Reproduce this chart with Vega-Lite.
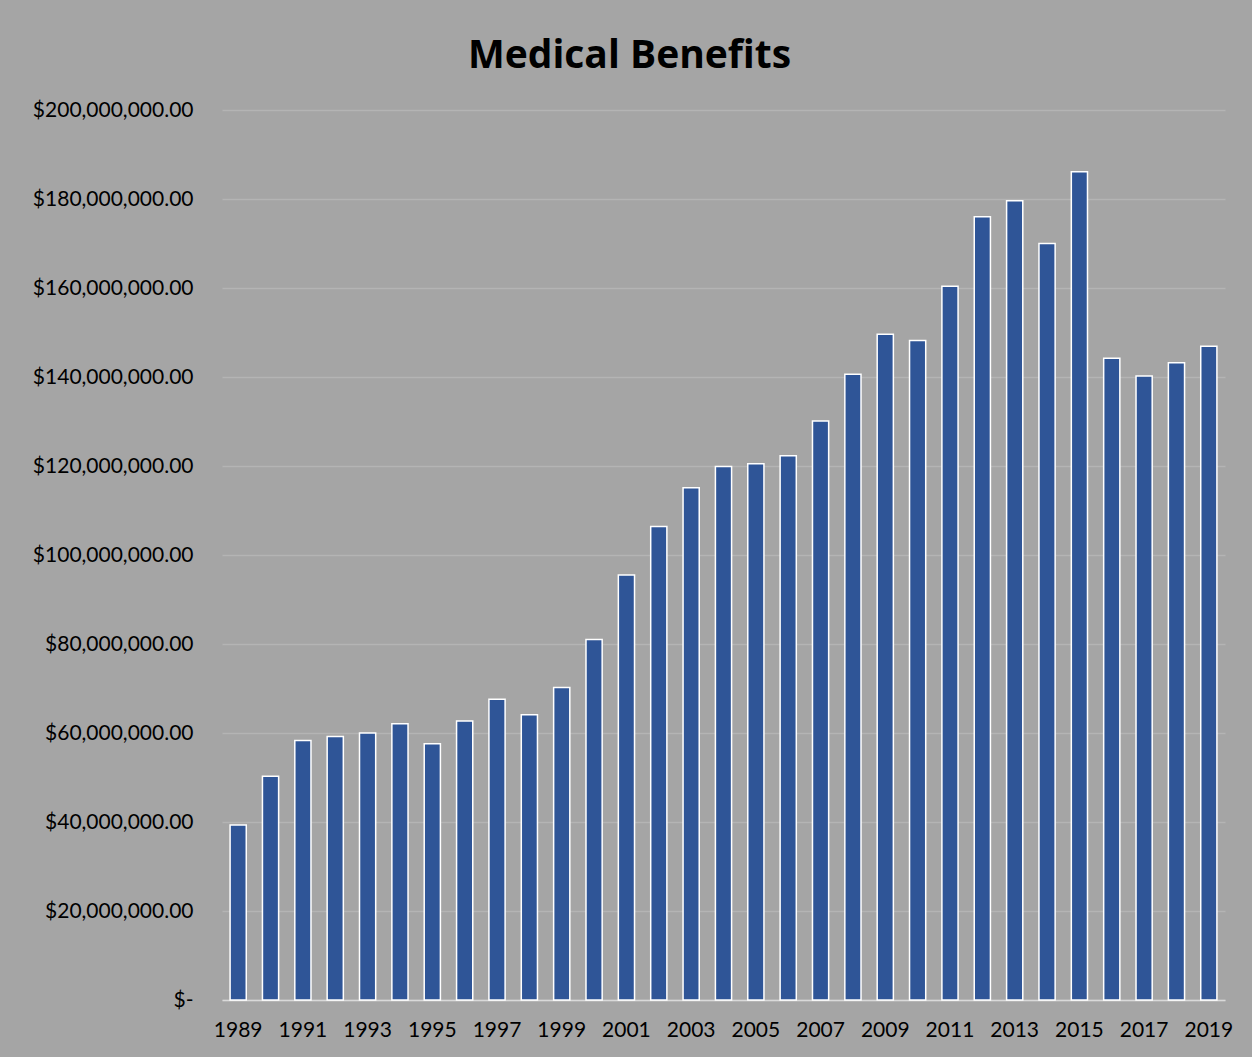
{
  "$schema": "https://vega.github.io/schema/vega-lite/v6.json",
  "width": 1003,
  "height": 890,
  "autosize": {"type": "none"},
  "padding": {"left": 222, "top": 110, "right": 27, "bottom": 57},
  "background": "#a5a5a5",
  "title": {
    "text": "Medical Benefits",
    "frame": "bounds",
    "anchor": "middle",
    "font": "Open Sans",
    "fontSize": 39,
    "fontWeight": "bold",
    "color": "#000000",
    "baseline": "alphabetic",
    "offset": -8,
    "dx": -3
  },
  "config": {
    "view": {"stroke": null, "fill": "#a5a5a5"},
    "axis": {"labelFont": "Lato", "labelFontSize": 21, "labelColor": "#000000", "titleFontSize": 0}
  },
  "data": {
    "values": [
      {"year": 1989, "amount": 39300000},
      {"year": 1990, "amount": 50300000},
      {"year": 1991, "amount": 58300000},
      {"year": 1992, "amount": 59200000},
      {"year": 1993, "amount": 60000000},
      {"year": 1994, "amount": 62100000},
      {"year": 1995, "amount": 57600000},
      {"year": 1996, "amount": 62700000},
      {"year": 1997, "amount": 67600000},
      {"year": 1998, "amount": 64100000},
      {"year": 1999, "amount": 70200000},
      {"year": 2000, "amount": 81000000},
      {"year": 2001, "amount": 95500000},
      {"year": 2002, "amount": 106400000},
      {"year": 2003, "amount": 115100000},
      {"year": 2004, "amount": 119900000},
      {"year": 2005, "amount": 120500000},
      {"year": 2006, "amount": 122300000},
      {"year": 2007, "amount": 130100000},
      {"year": 2008, "amount": 140600000},
      {"year": 2009, "amount": 149600000},
      {"year": 2010, "amount": 148200000},
      {"year": 2011, "amount": 160400000},
      {"year": 2012, "amount": 176000000},
      {"year": 2013, "amount": 179600000},
      {"year": 2014, "amount": 170000000},
      {"year": 2015, "amount": 186100000},
      {"year": 2016, "amount": 144200000},
      {"year": 2017, "amount": 140200000},
      {"year": 2018, "amount": 143200000},
      {"year": 2019, "amount": 146900000}
    ]
  },
  "mark": {"type": "bar", "fill": "#2f5597", "stroke": "#ffffff", "strokeWidth": 1.5},
  "encoding": {
    "x": {
      "field": "year",
      "type": "ordinal",
      "scale": {"paddingInner": 0.5, "paddingOuter": 0.25},
      "axis": {
        "title": null,
        "labelAngle": 0,
        "values": [1989, 1991, 1993, 1995, 1997, 1999, 2001, 2003, 2005, 2007, 2009, 2011, 2013, 2015, 2017, 2019],
        "ticks": false,
        "domain": true,
        "domainColor": "#d9d9d9",
        "domainWidth": 1.5,
        "labelPadding": 19,
        "grid": false
      }
    },
    "y": {
      "field": "amount",
      "type": "quantitative",
      "scale": {"domain": [0, 200000000], "nice": false},
      "axis": {
        "title": null,
        "values": [0, 20000000, 40000000, 60000000, 80000000, 100000000, 120000000, 140000000, 160000000, 180000000, 200000000],
        "labelExpr": "datum.value == 0 ? '$-' : '$' + format(datum.value, ',.2f')",
        "ticks": false,
        "domain": false,
        "grid": true,
        "gridColor": "#b4b4b4",
        "gridWidth": 1.5,
        "labelPadding": 29
      }
    }
  }
}
